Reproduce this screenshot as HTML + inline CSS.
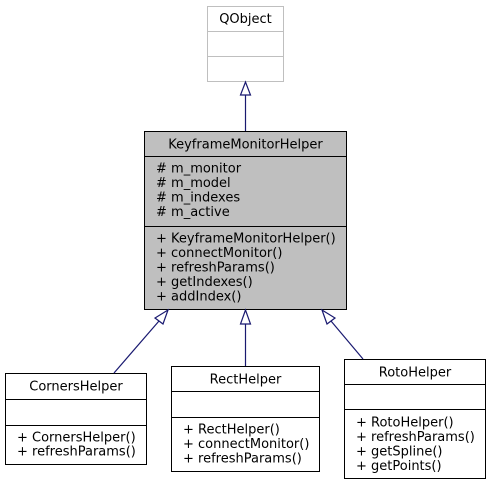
<!DOCTYPE html>
<html><head><meta charset="utf-8"><style>
html,body{margin:0;padding:0;background:#fff;width:491px;height:485px;overflow:hidden}
svg text{font-family:"DejaVu Sans","Liberation Sans",sans-serif;font-size:13px;fill:#000}
</style></head><body>
<svg width="491" height="485" xmlns="http://www.w3.org/2000/svg">
<!-- QObject -->
<rect x="207.5" y="6.5" width="76" height="75" fill="#fff" stroke="#bfbfbf"/>
<line x1="207.5" y1="31.5" x2="283.5" y2="31.5" stroke="#bfbfbf"/>
<line x1="207.5" y1="56.5" x2="283.5" y2="56.5" stroke="#bfbfbf"/>
<text x="245.5" y="23" text-anchor="middle">QObject</text>
<!-- KMH -->
<rect x="144.5" y="131.5" width="202" height="178" fill="#bfbfbf" stroke="#000"/>
<line x1="144.5" y1="156.5" x2="346.5" y2="156.5" stroke="#000"/>
<line x1="144.5" y1="226.5" x2="346.5" y2="226.5" stroke="#000"/>
<text x="245.5" y="148.5" text-anchor="middle">KeyframeMonitorHelper</text>
<text x="156" y="172.5"># m_monitor</text>
<text x="156" y="187"># m_model</text>
<text x="156" y="201.5"># m_indexes</text>
<text x="156" y="216"># m_active</text>
<text x="156" y="242.5">+ KeyframeMonitorHelper()</text>
<text x="156" y="257">+ connectMonitor()</text>
<text x="156" y="271.5">+ refreshParams()</text>
<text x="156" y="286">+ getIndexes()</text>
<text x="156" y="300.5">+ addIndex()</text>
<!-- Corners -->
<rect x="5.5" y="373.5" width="141" height="91" fill="#fff" stroke="#000"/>
<line x1="5.5" y1="399.5" x2="146.5" y2="399.5" stroke="#000"/>
<line x1="5.5" y1="425.5" x2="146.5" y2="425.5" stroke="#000"/>
<text x="76" y="390.5" text-anchor="middle">CornersHelper</text>
<text x="17" y="441.5">+ CornersHelper()</text>
<text x="17" y="455.5">+ refreshParams()</text>
<!-- Rect -->
<rect x="171.5" y="366.5" width="148" height="105" fill="#fff" stroke="#000"/>
<line x1="171.5" y1="391.5" x2="319.5" y2="391.5" stroke="#000"/>
<line x1="171.5" y1="417.5" x2="319.5" y2="417.5" stroke="#000"/>
<text x="245.5" y="383.5" text-anchor="middle">RectHelper</text>
<text x="183" y="433.5">+ RectHelper()</text>
<text x="183" y="448">+ connectMonitor()</text>
<text x="183" y="462.5">+ refreshParams()</text>
<!-- Roto -->
<rect x="344.5" y="359.5" width="141" height="119" fill="#fff" stroke="#000"/>
<line x1="344.5" y1="384.5" x2="485.5" y2="384.5" stroke="#000"/>
<line x1="344.5" y1="409.5" x2="485.5" y2="409.5" stroke="#000"/>
<text x="415" y="376.5" text-anchor="middle">RotoHelper</text>
<text x="356" y="426.5">+ RotoHelper()</text>
<text x="356" y="441">+ refreshParams()</text>
<text x="356" y="455.5">+ getSpline()</text>
<text x="356" y="470">+ getPoints()</text>
<!-- connectors -->
<g stroke="#191970" stroke-width="1.2" fill="#fff">
<line x1="245.5" y1="131" x2="245.5" y2="95"/>
<polygon points="245.5,82 240.5,95 250.5,95"/>
<line x1="114" y1="373" x2="159" y2="321"/>
<polygon points="168,310 155,318 163,324"/>
<line x1="245.5" y1="366" x2="245.5" y2="324"/>
<polygon points="245.5,310 240.5,324 250.5,324"/>
<line x1="363" y1="359" x2="331" y2="321"/>
<polygon points="322,310 335,318 327,324"/>
</g>
</svg>
</body></html>
